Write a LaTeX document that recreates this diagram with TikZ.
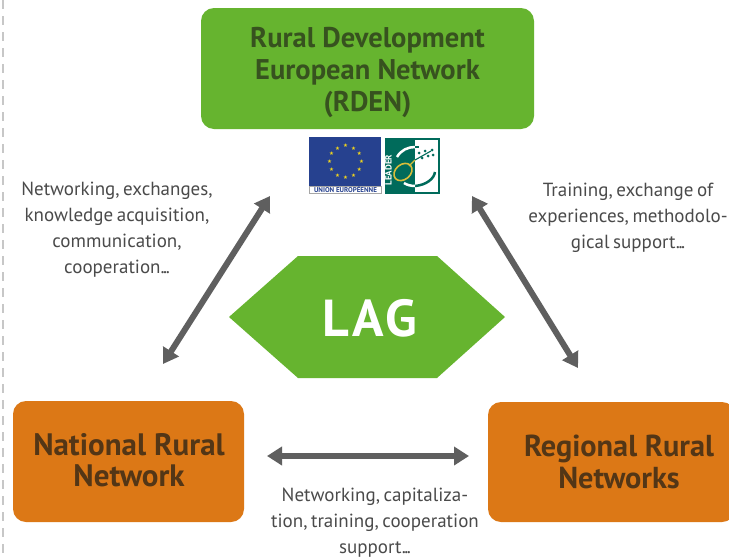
\documentclass[tikz,border=0pt]{standalone}
\usepackage{fontspec}
\setmainfont{PT Sans}
\newfontfamily\symfont{DejaVu Sans}
\newfontfamily\labfont[WordSpace=0.7]{PT Sans}
\newcommand{\tdots}{.\kern-1.5pt.\kern-1.5pt.}
\usetikzlibrary{arrows.meta}
\definecolor{lgreen}{HTML}{66B42F}
\definecolor{lorange}{HTML}{DC7816}
\definecolor{dgreen}{HTML}{37521F}
\definecolor{dbrown}{HTML}{533616}
\definecolor{agray}{HTML}{5F5F5F}
\definecolor{tgray}{HTML}{4A4A4A}
\definecolor{eublue}{HTML}{26418F}
\definecolor{eustar}{HTML}{F2D61C}
\definecolor{lteal}{HTML}{006B5B}
\definecolor{lyellow}{HTML}{D9BE3A}
\tikzset{
 boxg/.style={text=dgreen,font=\fontsize{28.5}{32}\selectfont\bfseries,align=center,inner sep=0pt},
 boxo/.style={text=dbrown,font=\fontsize{31}{31.5}\selectfont\bfseries,align=center,inner sep=0pt},
 lab/.style={text=tgray,font=\labfont\fontsize{19}{26}\selectfont,align=center,inner sep=0pt},
 dbl/.style={draw=agray,line width=6pt,{Triangle[length=15pt,width=18pt]}-{Triangle[length=15pt,width=18pt]}}
}
\begin{document}
\begin{tikzpicture}[x=1pt,y=-1pt]
\useasboundingbox (0,0) rectangle (729,560);
\fill[white] (0,0) rectangle (729,560);
\draw[draw=black!22,line width=1.4pt,dash pattern=on 9pt off 7pt] (3,0) -- (3,560);
% boxes
\fill[lgreen,rounded corners=13pt] (201,8) rectangle (534,129);
\node[boxg] (rden) at (367.5,72.5) {Rural Development\\European Network\\(RDEN)};
\fill[lorange,rounded corners=13pt] (13,401) rectangle (244,522);
\node[boxo] (nrn) at (129,460) {National Rural\\Network};
\fill[lorange,rounded corners=13pt] (488,402) rectangle (735,522);
\node[boxo,font=\fontsize{30.3}{31.5}\selectfont\bfseries] (rrn) at (619,462) {Regional Rural\\Networks};
% hexagon
\fill[lgreen] (229,317) -- (298,256) -- (437,256) -- (505,317) -- (437,378) -- (298,378) -- cycle;
\node[text=white,font=\fontsize{52}{52}\selectfont\bfseries\addfontfeature{LetterSpace=6},inner sep=0pt] (lag) at (370,318) {LAG};
% EU flag
\fill[eublue] (309,137) rectangle (381,186);
\fill[white,draw=black!35,line width=.6pt] (309,186) rectangle (381,193.5);
\node[text=eublue,font=\fontsize{7}{7}\selectfont\bfseries,inner sep=0pt] (eu) at (345.5,189.8) {UNION EUROPÉENNE};
\foreach \a in {0,30,...,330}{\node[text=eustar,font=\symfont\fontsize{5.5}{6}\selectfont,inner sep=0pt] at ({345.5+16*cos(\a)},{162-16*sin(\a)}) {★};}
% LEADER logo
\fill[lteal] (385,138) rectangle (440,194);
\fill[white] (415,140) rectangle (438,192);
\draw[white,line width=2.5pt] (397,157) .. controls (401,150) and (408,147) .. (415,147);
\draw[lteal,line width=2.5pt] (415,147) -- (419,147);
\draw[lteal,line width=2.5pt] (435,172) .. controls (434,179) and (426,185) .. (415,186);
\draw[white,line width=2.5pt] (415,186) .. controls (411,186) and (407,185) .. (404,183);
\draw[lyellow,line width=1.6pt,rotate around={40:(403,172)}] (403,172) ellipse (10pt and 7.5pt);
\draw[lyellow,line width=1.1pt] (409,166) -- (415,160);
\draw[lteal,line width=1.1pt] (415,160) -- (431,151);
\foreach \p in {(419,153),(422,158),(425,151),(428,156),(432,150),(433,155)}{\fill[lteal] \p circle (1.5pt);}
\node[text=white,font=\fontsize{9}{9}\selectfont\bfseries,rotate=90,inner sep=0pt] (lead) at (388.5,170) {LEADER};
% arrows
\coordinate (a1) at (270,196); \coordinate (a2) at (163,364);
\coordinate (b1) at (472,196); \coordinate (b2) at (578,368);
\coordinate (c1) at (267,456); \coordinate (c2) at (469,456);
\draw[dbl] (a1) -- (a2);
\draw[dbl] (b1) -- (b2);
\draw[dbl] (c1) -- (c2);
% labels
\node[lab] (l1) at (117,229.5) {Networking, exchanges,\\knowledge acquisition,\\communication,\\cooperation\tdots};
\node[lab] (l2) at (628,217.5) {Training, exchange of\\experiences, methodolo-\\gical support\tdots};
\node[lab] (l3) at (375,522.5) {Networking, capitaliza-\\tion, training, cooperation\\support\tdots};
\end{tikzpicture}
\end{document}
